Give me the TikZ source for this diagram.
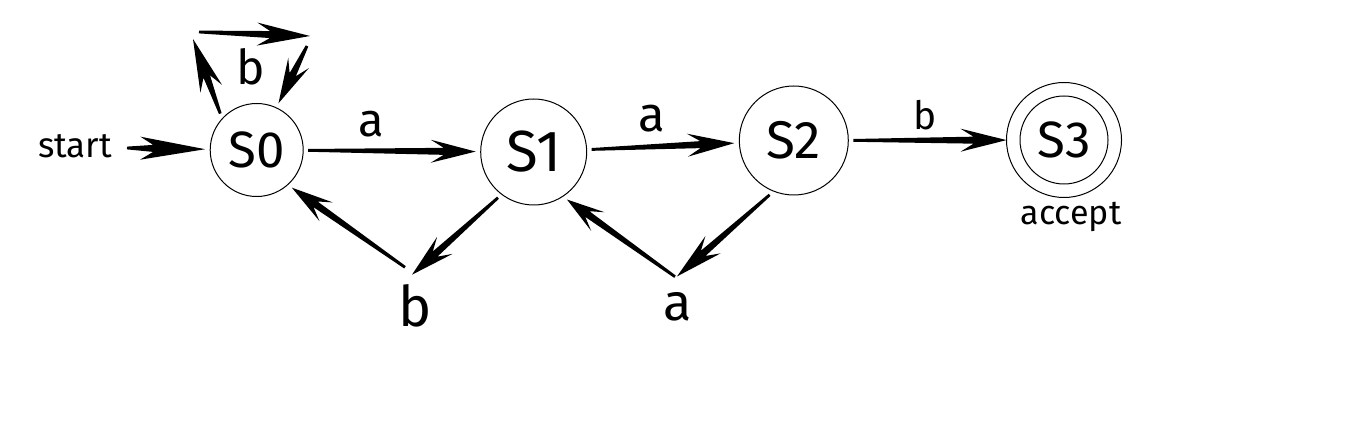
\documentclass[tikz,border=0pt]{standalone}
\usepackage{fontspec}
\setmainfont{Fira Sans}
\usetikzlibrary{calc}
% tapered arrow: #1 head length, #2 from, #3 to
\newcommand\warrow[3][45]{%
  \path (#2) -- (#3) coordinate[pos=0] (wa) coordinate[pos=1] (wb);
  \path let \p1=(wa), \p2=(wb) in \pgfextra{%
    \pgfmathsetmacro\wangL{atan2(\y2-\y1,\x2-\x1)}%
    \pgfmathsetmacro\wlenL{veclen(\x2-\x1,\y2-\y1)}%
    \xdef\wang{\wangL}\xdef\wlen{\wlenL}};
  \fill[shift={(wa)}, rotate=\wang]
    (0pt,-1.4pt) -- ({(\wlen-#1+13)*1pt},-3.5pt) -- ({(\wlen-#1)*1pt},-11.5pt)
    -- ({\wlen*1pt},0pt) -- ({(\wlen-#1)*1pt},11.5pt) -- ({(\wlen-#1+13)*1pt},3.5pt)
    -- (0pt,1.4pt) -- cycle;
}
\tikzset{
  state/.style={circle, draw, line width=1pt, inner sep=0pt, outer sep=5pt},
  lbl/.style={anchor=base, inner sep=0pt}
}
\begin{document}
\begin{tikzpicture}[x=1pt, y=-1pt]
\useasboundingbox (0,0) rectangle (1362,443);
% states
\node[state, minimum size=93pt] (S0) at (256.7,150) {\fontsize{51}{51}\selectfont S0};
\node[state, minimum size=106pt] (S1) at (533.7,152) {\fontsize{58}{58}\selectfont S1};
\node[state, minimum size=109pt] (S2) at (793.8,140.5) {\fontsize{53}{53}\selectfont S2};
\node[state, minimum size=115pt, outer sep=0pt] (S3) at (1064,140) {\fontsize{51}{51}\selectfont S3};
\draw[line width=1pt] (S3.center) circle[radius=44pt];
% labels
\node[lbl] (start) at (75,158) {\fontsize{35}{35}\selectfont start};
\node[lbl] (accept) at (1071,225) {\fontsize{34}{34}\selectfont accept};
\node[lbl] (lloop) at (250.5,85) {\fontsize{48}{48}\selectfont b};
\node[lbl] (l01) at (371,136.7) {\fontsize{47}{47}\selectfont a};
\node[lbl] (l12) at (652,131.7) {\fontsize{49}{49}\selectfont a};
\node[lbl] (l23) at (925,130) {\fontsize{39}{39}\selectfont b};
\node[lbl] (lb) at (415,326.7) {\fontsize{56}{56}\selectfont b};
\node[lbl] (la) at (677.5,320.7) {\fontsize{52}{52}\selectfont a};
% free ends
\coordinate (st) at (127,148);
\coordinate (la1) at (193,39);
\coordinate (lb1) at (199,32);
\coordinate (lc1) at (310,36);
\coordinate (ld1) at (307,46);
\coordinate (bt) at (411.7,275);
\coordinate (bs) at (405,267.3);
\coordinate (at) at (676.7,276.7);
\coordinate (as) at (675,276.7);
% edges
\warrow[65]{st}{S0}
\warrow[53]{S0.135}{la1}
\warrow[53]{lb1}{lc1}
\warrow[45]{ld1}{S0.65}
\warrow[45]{S0}{S1}
\warrow[47]{S1}{S2}
\warrow[46]{S2}{S3}
\warrow[44]{S1.-128}{bt}
\warrow[42]{bs}{S0.-47}
\warrow[48]{S2.-114}{at}
\warrow[38]{as}{S1.-55}
\end{tikzpicture}
\end{document}
